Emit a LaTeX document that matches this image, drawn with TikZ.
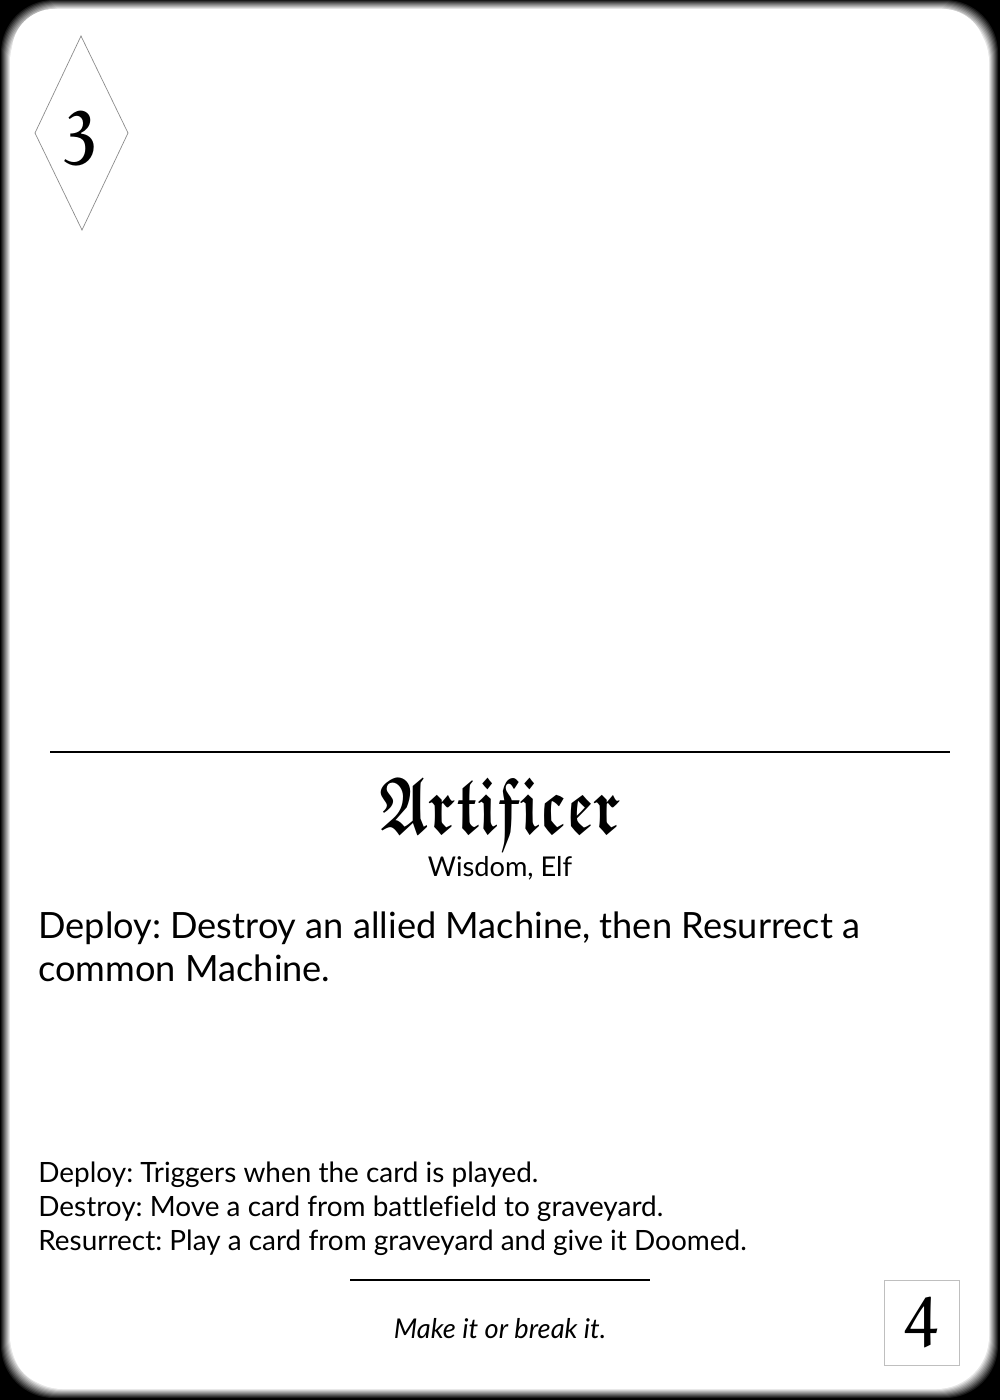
\documentclass[tikz,border=0pt]{standalone}
\usepackage{fontspec}
\usepackage{graphicx}
\newfontfamily\lato[Ligatures=CommonOff]{Lato}
\newcommand\goth{\usefont{U}{euf}{b}{n}}
\frenchspacing
\begin{document}
\begin{tikzpicture}[x=0.02cm,y=-0.02cm,every node/.style={inner sep=0pt,font=\lato},
  rule/.style={line width=0.7pt}, bigtext/.style={anchor=base west,font=\lato\fontsize{20.6}{25}\selectfont},
  smalltext/.style={anchor=base west,font=\lato\fontsize{15.9}{19}\selectfont}]
            \useasboundingbox (0,0) rectangle (1000,1400);
            \fill[black] (0,0) rectangle (1000,1400);
            % card edge
            \foreach \i in {0,...,9}
              \fill[black!\fpeval{90-10*\i},rounded corners=30] (\i+1,\i) rectangle (998-\i,1398-\i);
            \fill[white,rounded corners=24] (12,9) rectangle (985,1386);
            \draw[black!45] (81,36) node(top){} -- (128,133) node(right){} -- (82,230) node(bottom){} -- (35,133) node(left){} -- cycle;
            \node (cost) at (80,139) {\scalebox{0.75}[1]{\goth\fontsize{46}{46}\selectfont 3}};
            \draw[rule] (50,752) coordinate(la) -- (950,752) coordinate(lb);
            \node [anchor=base](name) at (500,833) {\scalebox{0.72}[1]{\goth\fontsize{46}{46}\selectfont Artificer}};
            \node [anchor=base](tribe) at (500,876) {\fontsize{15.5}{18}\selectfont Wisdom, Elf};
            \node [bigtext](ab1) at (38,938) {Deploy: Destroy an allied Machine, then Resurrect a};
            \node [bigtext](ab2) at (38,981) {common Machine.};
            \node [smalltext](kw1) at (38,1182) {Deploy: Triggers when the card is played.};
            \node [smalltext](kw2) at (38,1216) {Destroy: Move a card from battlefield to graveyard.};
            \node [smalltext](kw3) at (38,1250) {Resurrect: Play a card from graveyard and give it Doomed.};
            \draw[rule] (350,1280) coordinate(lc) -- (650,1280) coordinate(ld);
            \node [anchor=base](flavor) at (500,1338) {\fontsize{15.5}{18}\selectfont\itshape Make it or break it.};
            \node [draw=black!25,minimum width=1.5cm,minimum height=1.7cm](power) at (921.5,1322.5) {\scalebox{0.8}[1]{\goth\fontsize{42}{42}\selectfont 4}};
\end{tikzpicture}
\end{document}
